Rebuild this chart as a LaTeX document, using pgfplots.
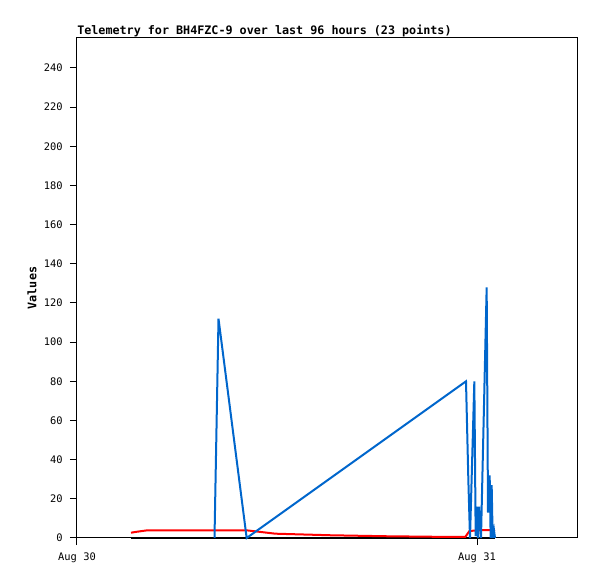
\documentclass[border=0pt]{standalone}
\usepackage{fontspec}
\setmainfont{DejaVu Sans Mono}
\usepackage{pgfplots}
\pgfplotsset{compat=1.18}
\definecolor{telblue}{RGB}{0,102,204}
\begin{document}
\begin{tikzpicture}[x=0.75pt,y=0.75pt]
\begin{axis}[
  at={(0,0)}, anchor=south west,
  scale only axis,
  width=375pt, height=375pt,
  xmin=0, xmax=30, ymin=0, ymax=255.3,
  xtick={0,24}, xticklabels={Aug 30,Aug 31},
  ytick={0,20,...,240},
  tick align=outside,
  major tick length=5.25pt,
  xtick pos=bottom, ytick pos=left,
  axis line style={black, line width=0.75pt},
  tick style={black, line width=0.75pt},
  ticklabel style={font=\fontsize{7.8}{9}\selectfont},
  yticklabel style={xshift=-2pt},
  xticklabel style={yshift=-2pt},
  /pgf/number format/assume math mode=true,
  clip=false,
]
% black series
\addplot[black, line width=1.5pt] coordinates {(3.24,0) (25.08,0)};
% red series
\addplot[red, line width=1.5pt] coordinates {
 (3.24,2.7) (3.6,3.2) (4.2,3.9) (10.2,3.9) (11.9,2.2) (15.2,1.4)
 (18.5,0.9) (21.7,0.6) (23.3,0.6) (23.55,3.6) (24.3,4.0) (25.08,4.1)
};
% blue series
\addplot[telblue, line width=1.5pt] coordinates {
 (8.25,0) (8.49,112) (10.18,0) (23.34,80) (23.48,30) (23.58,0)
 (23.84,80) (23.92,1) (24.02,16) (24.06,0) (24.12,16) (24.24,0)
 (24.58,128) (24.66,13) (24.76,32) (24.82,0) (24.88,27) (24.94,0)
 (25.02,4) (25.08,0)
};
\end{axis}
\node[anchor=base west, inner sep=0pt, font=\bfseries\fontsize{8.8}{10}\selectfont]
  at (0,503) {Telemetry for BH4FZC-9 over last 96 hours (23 points)};
\node[rotate=90, inner sep=0pt, font=\bfseries\fontsize{8.8}{10}\selectfont]
  at (-45,250) {Values};
\useasboundingbox (-77,-41) rectangle (520,538);
\end{tikzpicture}
\end{document}
